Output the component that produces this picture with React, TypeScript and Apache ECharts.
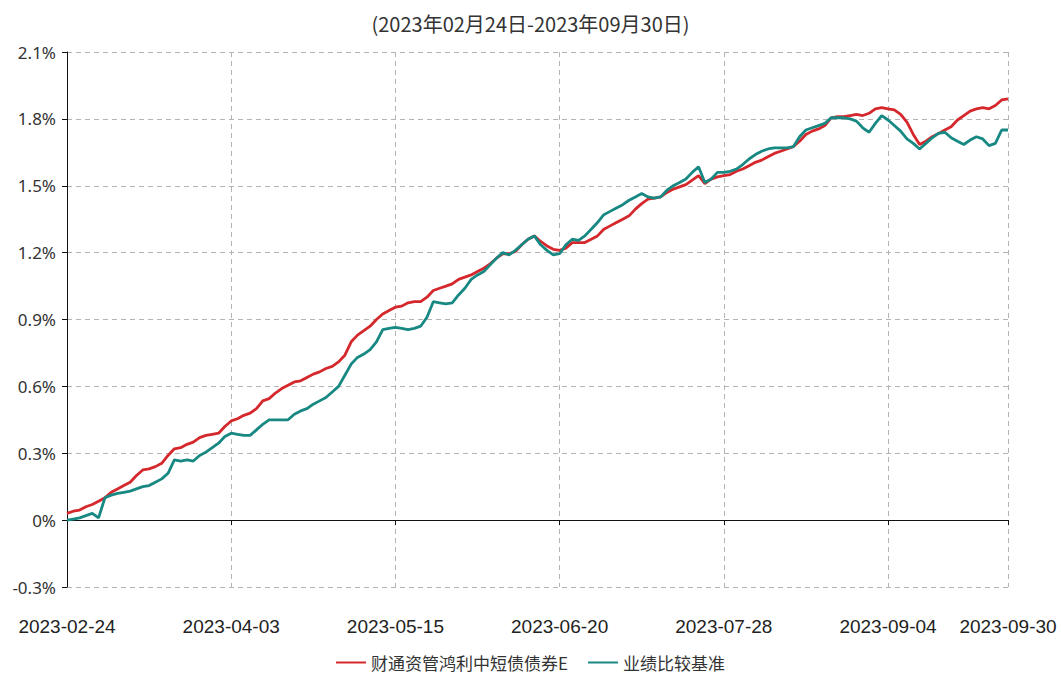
import React, { useEffect, useRef } from "react";
import * as echarts from "echarts";

const titleText = "(2023年02月24日-2023年09月30日)";
const seriesNames = ["财通资管鸿利中短债债券E", "业绩比较基准"];

const dates = [
  "2023-02-24", "2023-02-27", "2023-02-28",
  "2023-03-01", "2023-03-02", "2023-03-03", "2023-03-06", "2023-03-07", "2023-03-08", "2023-03-09", "2023-03-10",
  "2023-03-13", "2023-03-14", "2023-03-15", "2023-03-16", "2023-03-17", "2023-03-20", "2023-03-21", "2023-03-22",
  "2023-03-23", "2023-03-24", "2023-03-27", "2023-03-28", "2023-03-29", "2023-03-30", "2023-03-31",
  "2023-04-03", "2023-04-04", "2023-04-06", "2023-04-07", "2023-04-10", "2023-04-11", "2023-04-12", "2023-04-13",
  "2023-04-14", "2023-04-17", "2023-04-18", "2023-04-19", "2023-04-20", "2023-04-21", "2023-04-24", "2023-04-25",
  "2023-04-26", "2023-04-27", "2023-04-28",
  "2023-05-04", "2023-05-05", "2023-05-08", "2023-05-09", "2023-05-10", "2023-05-11", "2023-05-12", "2023-05-15",
  "2023-05-16", "2023-05-17", "2023-05-18", "2023-05-19", "2023-05-22", "2023-05-23", "2023-05-24", "2023-05-25",
  "2023-05-26", "2023-05-29", "2023-05-30", "2023-05-31",
  "2023-06-01", "2023-06-02", "2023-06-05", "2023-06-06", "2023-06-07", "2023-06-08", "2023-06-09", "2023-06-12",
  "2023-06-13", "2023-06-14", "2023-06-15", "2023-06-16", "2023-06-19", "2023-06-20", "2023-06-21", "2023-06-26",
  "2023-06-27", "2023-06-28", "2023-06-29", "2023-06-30",
  "2023-07-03", "2023-07-04", "2023-07-05", "2023-07-06", "2023-07-07", "2023-07-10", "2023-07-11", "2023-07-12",
  "2023-07-13", "2023-07-14", "2023-07-17", "2023-07-18", "2023-07-19", "2023-07-20", "2023-07-21", "2023-07-24",
  "2023-07-25", "2023-07-26", "2023-07-27", "2023-07-28", "2023-07-31",
  "2023-08-01", "2023-08-02", "2023-08-03", "2023-08-04", "2023-08-07", "2023-08-08", "2023-08-09", "2023-08-10",
  "2023-08-11", "2023-08-14", "2023-08-15", "2023-08-16", "2023-08-17", "2023-08-18", "2023-08-21", "2023-08-22",
  "2023-08-23", "2023-08-24", "2023-08-25", "2023-08-28", "2023-08-29", "2023-08-30", "2023-08-31",
  "2023-09-01", "2023-09-04", "2023-09-05", "2023-09-06", "2023-09-07", "2023-09-08", "2023-09-11", "2023-09-12",
  "2023-09-13", "2023-09-14", "2023-09-15", "2023-09-18", "2023-09-19", "2023-09-20", "2023-09-21", "2023-09-22",
  "2023-09-25", "2023-09-26", "2023-09-27", "2023-09-28", "2023-09-30",
];

// 财通资管鸿利中短债债券E (%)
const fundValues = [
  0.03, 0.04, 0.045, 0.06, 0.07, 0.085, 0.10, 0.125, 0.14, 0.155, 0.17, 0.20, 0.225, 0.23, 0.24, 0.255, 0.29, 0.32, 0.325, 0.34, 0.35, 0.37, 0.38, 0.385, 0.39, 0.42, 0.445,
  0.455, 0.47, 0.48, 0.50, 0.535, 0.545, 0.57, 0.59, 0.605, 0.62, 0.625, 0.64, 0.655, 0.665, 0.68, 0.69, 0.71, 0.74, 0.80, 0.83, 0.85, 0.87, 0.90, 0.925, 0.94, 0.955,
  0.96, 0.975, 0.98, 0.98, 1.00, 1.03, 1.04, 1.05, 1.06, 1.08, 1.09, 1.10, 1.115, 1.13, 1.15, 1.175, 1.195, 1.195, 1.205, 1.235, 1.26, 1.275, 1.25, 1.23, 1.215, 1.21,
  1.22, 1.245, 1.245, 1.245, 1.26, 1.275, 1.305, 1.32, 1.335, 1.35, 1.365, 1.395, 1.42, 1.44, 1.445, 1.45, 1.47, 1.485, 1.495, 1.505, 1.525, 1.545, 1.51, 1.53, 1.54, 1.545,
  1.55, 1.565, 1.575, 1.59, 1.605, 1.615, 1.63, 1.645, 1.655, 1.665, 1.675, 1.70, 1.73, 1.745, 1.755, 1.77, 1.805, 1.81, 1.81, 1.815, 1.82, 1.815, 1.825, 1.845, 1.85, 1.845,
  1.84, 1.82, 1.785, 1.73, 1.685, 1.70, 1.72, 1.735, 1.75, 1.765, 1.795, 1.815, 1.835, 1.845, 1.85, 1.845, 1.86, 1.885, 1.89,
];

// 业绩比较基准 (%)
const benchValues = [
  0, 0.005, 0.01, 0.02, 0.03, 0.01, 0.10, 0.112, 0.12, 0.125, 0.13, 0.14, 0.15, 0.155, 0.17, 0.185, 0.21, 0.27, 0.265, 0.27, 0.265, 0.29, 0.305, 0.325, 0.345, 0.375, 0.39,
  0.385, 0.38, 0.38, 0.405, 0.43, 0.45, 0.45, 0.45, 0.45, 0.475, 0.49, 0.50, 0.52, 0.535, 0.55, 0.575, 0.60, 0.65, 0.70, 0.73, 0.745, 0.765, 0.80, 0.855, 0.86, 0.865,
  0.86, 0.855, 0.86, 0.87, 0.91, 0.98, 0.975, 0.97, 0.975, 1.01, 1.04, 1.08, 1.10, 1.115, 1.145, 1.175, 1.20, 1.19, 1.21, 1.235, 1.26, 1.275, 1.235, 1.21, 1.19, 1.195,
  1.235, 1.26, 1.255, 1.275, 1.305, 1.335, 1.37, 1.385, 1.40, 1.415, 1.435, 1.45, 1.465, 1.45, 1.445, 1.45, 1.48, 1.50, 1.515, 1.53, 1.56, 1.585, 1.515, 1.53, 1.56, 1.56,
  1.565, 1.575, 1.595, 1.62, 1.64, 1.655, 1.665, 1.67, 1.67, 1.67, 1.675, 1.72, 1.75, 1.76, 1.77, 1.78, 1.805, 1.805, 1.805, 1.80, 1.79, 1.76, 1.74, 1.78, 1.815, 1.795,
  1.77, 1.745, 1.71, 1.69, 1.665, 1.69, 1.715, 1.735, 1.74, 1.715, 1.70, 1.685, 1.705, 1.72, 1.71, 1.68, 1.69, 1.75, 1.75,
];

const yMin = -0.3;
const yMax = 2.1;
const yStep = 0.3;
const labelEvery = 26;

export default function App() {
  const ref = useRef<HTMLDivElement>(null);

  useEffect(() => {
    if (!ref.current) return;
    const chart = echarts.init(ref.current, undefined, { renderer: "svg" });
    const lastIdx = dates.length - 1;
    const showIdx = (i: number) => i % labelEvery === 0 || i === lastIdx;
    const gridColor = "#b4b4b4";
    const textColor = "#333";
    const cjkFont = "'Noto Sans CJK SC', 'Noto Sans', sans-serif";

    chart.setOption({
      animation: false,
      backgroundColor: "#fff",
      title: {
        text: titleText,
        left: "center",
        top: 8,
        textStyle: {
          fontSize: 20,
          fontWeight: "normal",
          color: textColor,
          fontFamily: cjkFont,
        },
      },
      legend: {
        bottom: 4,
        left: "center",
        icon: "rect",
        itemWidth: 30,
        itemHeight: 2,
        itemGap: 20,
        textStyle: {
          fontSize: 17,
          color: textColor,
          fontFamily: cjkFont,
        },
        data: seriesNames,
      },
      grid: { left: 67, right: 53, top: 52, bottom: 93, containLabel: false },
      xAxis: [
        {
          type: "category",
          data: dates,
          boundaryGap: false,
          position: "bottom",
          axisLine: { show: false, onZero: false },
          axisTick: { show: false },
          axisLabel: {
            interval: (i: number) => showIdx(i),
            margin: 30,
            fontSize: 19,
            color: "#222",
            fontFamily: "'Liberation Sans', sans-serif",
          },
          splitLine: {
            show: true,
            interval: (i: number) => showIdx(i),
            lineStyle: { color: gridColor, type: [5, 4], width: 1 },
          },
        },
        {
          type: "category",
          data: dates,
          boundaryGap: false,
          position: "bottom",
          axisLine: { show: true, onZero: true, lineStyle: { color: "#111", width: 1 } },
          axisTick: {
            show: true,
            interval: (i: number) => showIdx(i),
            length: 5,
            lineStyle: { color: "#111" },
          },
          axisLabel: { show: false },
          splitLine: { show: false },
        },
      ],
      yAxis: {
        type: "value",
        min: yMin,
        max: yMax,
        interval: yStep,
        axisLine: { show: true, lineStyle: { color: "#111", width: 1 } },
        axisTick: { show: true, length: 5, lineStyle: { color: "#111" } },
        axisLabel: {
          fontSize: 17,
          color: textColor,
          margin: 11,
          fontFamily: "'Noto Sans', 'Liberation Sans', sans-serif",
          formatter: (v: number) => (Math.abs(v) < 1e-9 ? "0%" : v.toFixed(1) + "%"),
        },
        splitLine: {
          show: true,
          lineStyle: { color: gridColor, type: [5, 4], width: 1 },
        },
      },
      series: [
        {
          name: seriesNames[0],
          type: "line",
          data: fundValues,
          xAxisIndex: 0,
          showSymbol: false,
          symbol: "none",
          lineStyle: { color: "#d5282d", width: 2.8 },
          itemStyle: { color: "#d5282d" },
        },
        {
          name: seriesNames[1],
          type: "line",
          data: benchValues,
          xAxisIndex: 0,
          showSymbol: false,
          symbol: "none",
          lineStyle: { color: "#178882", width: 2.8 },
          itemStyle: { color: "#178882" },
        },
      ],
    });

    return () => chart.dispose();
  }, []);

  return (
    <div
      ref={ref}
      style={{ position: "absolute", left: 0, top: 0, width: 1061, height: 680 }}
    />
  );
}
